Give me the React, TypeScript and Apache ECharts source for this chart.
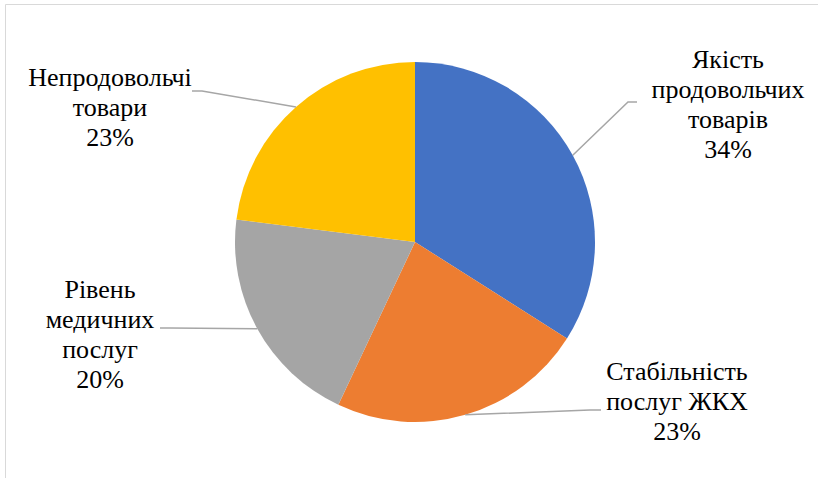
import React, { useEffect, useRef } from "react";
import * as echarts from "echarts";

const categories = [
  "Якість\nпродовольчих\nтоварів",
  "Стабільність\nпослуг ЖКХ",
  "Рівень\nмедичних\nпослуг",
  "Непродовольчі\nтовари",
];
const values = [34, 23, 20, 23];
const colors = ["#4472C4", "#ED7D31", "#A5A5A5", "#FFC000"];

const FONT = "Liberation Serif";
const CX = 415;
const CY = 242;
const R = 180;

// label placement (layout only)
const labelLayouts = [
  { x: 728, y: 104, elbow: [628, 102], end: [637, 102] },
  { x: 677, y: 401, elbow: [590, 410], end: [601, 410] },
  { x: 100, y: 334, elbow: [170, 328], end: [160, 328] },
  { x: 110, y: 107, elbow: [202, 91], end: [192, 91] },
];

export default function App() {
  const ref = useRef<HTMLDivElement>(null);
  useEffect(() => {
    if (!ref.current) return;
    const chart = echarts.init(ref.current, undefined, { renderer: "svg" });
    const total = values.reduce((a, b) => a + b, 0);
    let acc = 0;
    const anchors = values.map((v) => {
      const mid = ((acc + v / 2) / total) * Math.PI * 2;
      acc += v;
      return [CX + R * Math.sin(mid), CY - R * Math.cos(mid)];
    });
    const texts = categories.map((name, i) => ({
      type: "text",
      x: labelLayouts[i].x,
      y: labelLayouts[i].y,
      silent: true,
      z: 10,
      style: {
        text: name + "\n" + Math.round((values[i] / total) * 100) + "%",
        fontFamily: FONT,
        fontSize: 26,
        lineHeight: 30,
        fill: "#000",
        align: "center",
        textAlign: "center",
        verticalAlign: "middle",
        textVerticalAlign: "middle",
      },
    }));
    const lines = categories.map((_, i) => ({
      type: "polyline",
      silent: true,
      z: 10,
      shape: { points: [anchors[i], labelLayouts[i].elbow, labelLayouts[i].end] },
      style: { stroke: "#a6a6a6", lineWidth: 1.5, fill: "none" },
    }));
    chart.setOption({
      animation: false,
      backgroundColor: "#ffffff",
      graphic: [
        {
          type: "rect",
          shape: { x: 5.5, y: 4.5, width: 840, height: 500 },
          style: { fill: "none", stroke: "#d9d9d9", lineWidth: 1 },
          silent: true,
        },
        ...lines,
        ...texts,
      ],
      series: [
        {
          type: "pie",
          center: [CX, CY],
          radius: R,
          startAngle: 90,
          clockwise: true,
          data: categories.map((name, i) => ({
            name,
            value: values[i],
            itemStyle: { color: colors[i] },
          })),
          label: { show: false },
          labelLine: { show: false },
          emphasis: { disabled: true },
        },
      ],
    });
    return () => chart.dispose();
  }, []);
  return (
    <div
      ref={ref}
      style={{
        position: "fixed",
        left: 0,
        top: 0,
        width: 818,
        height: 478,
        background: "#fff",
      }}
    />
  );
}
